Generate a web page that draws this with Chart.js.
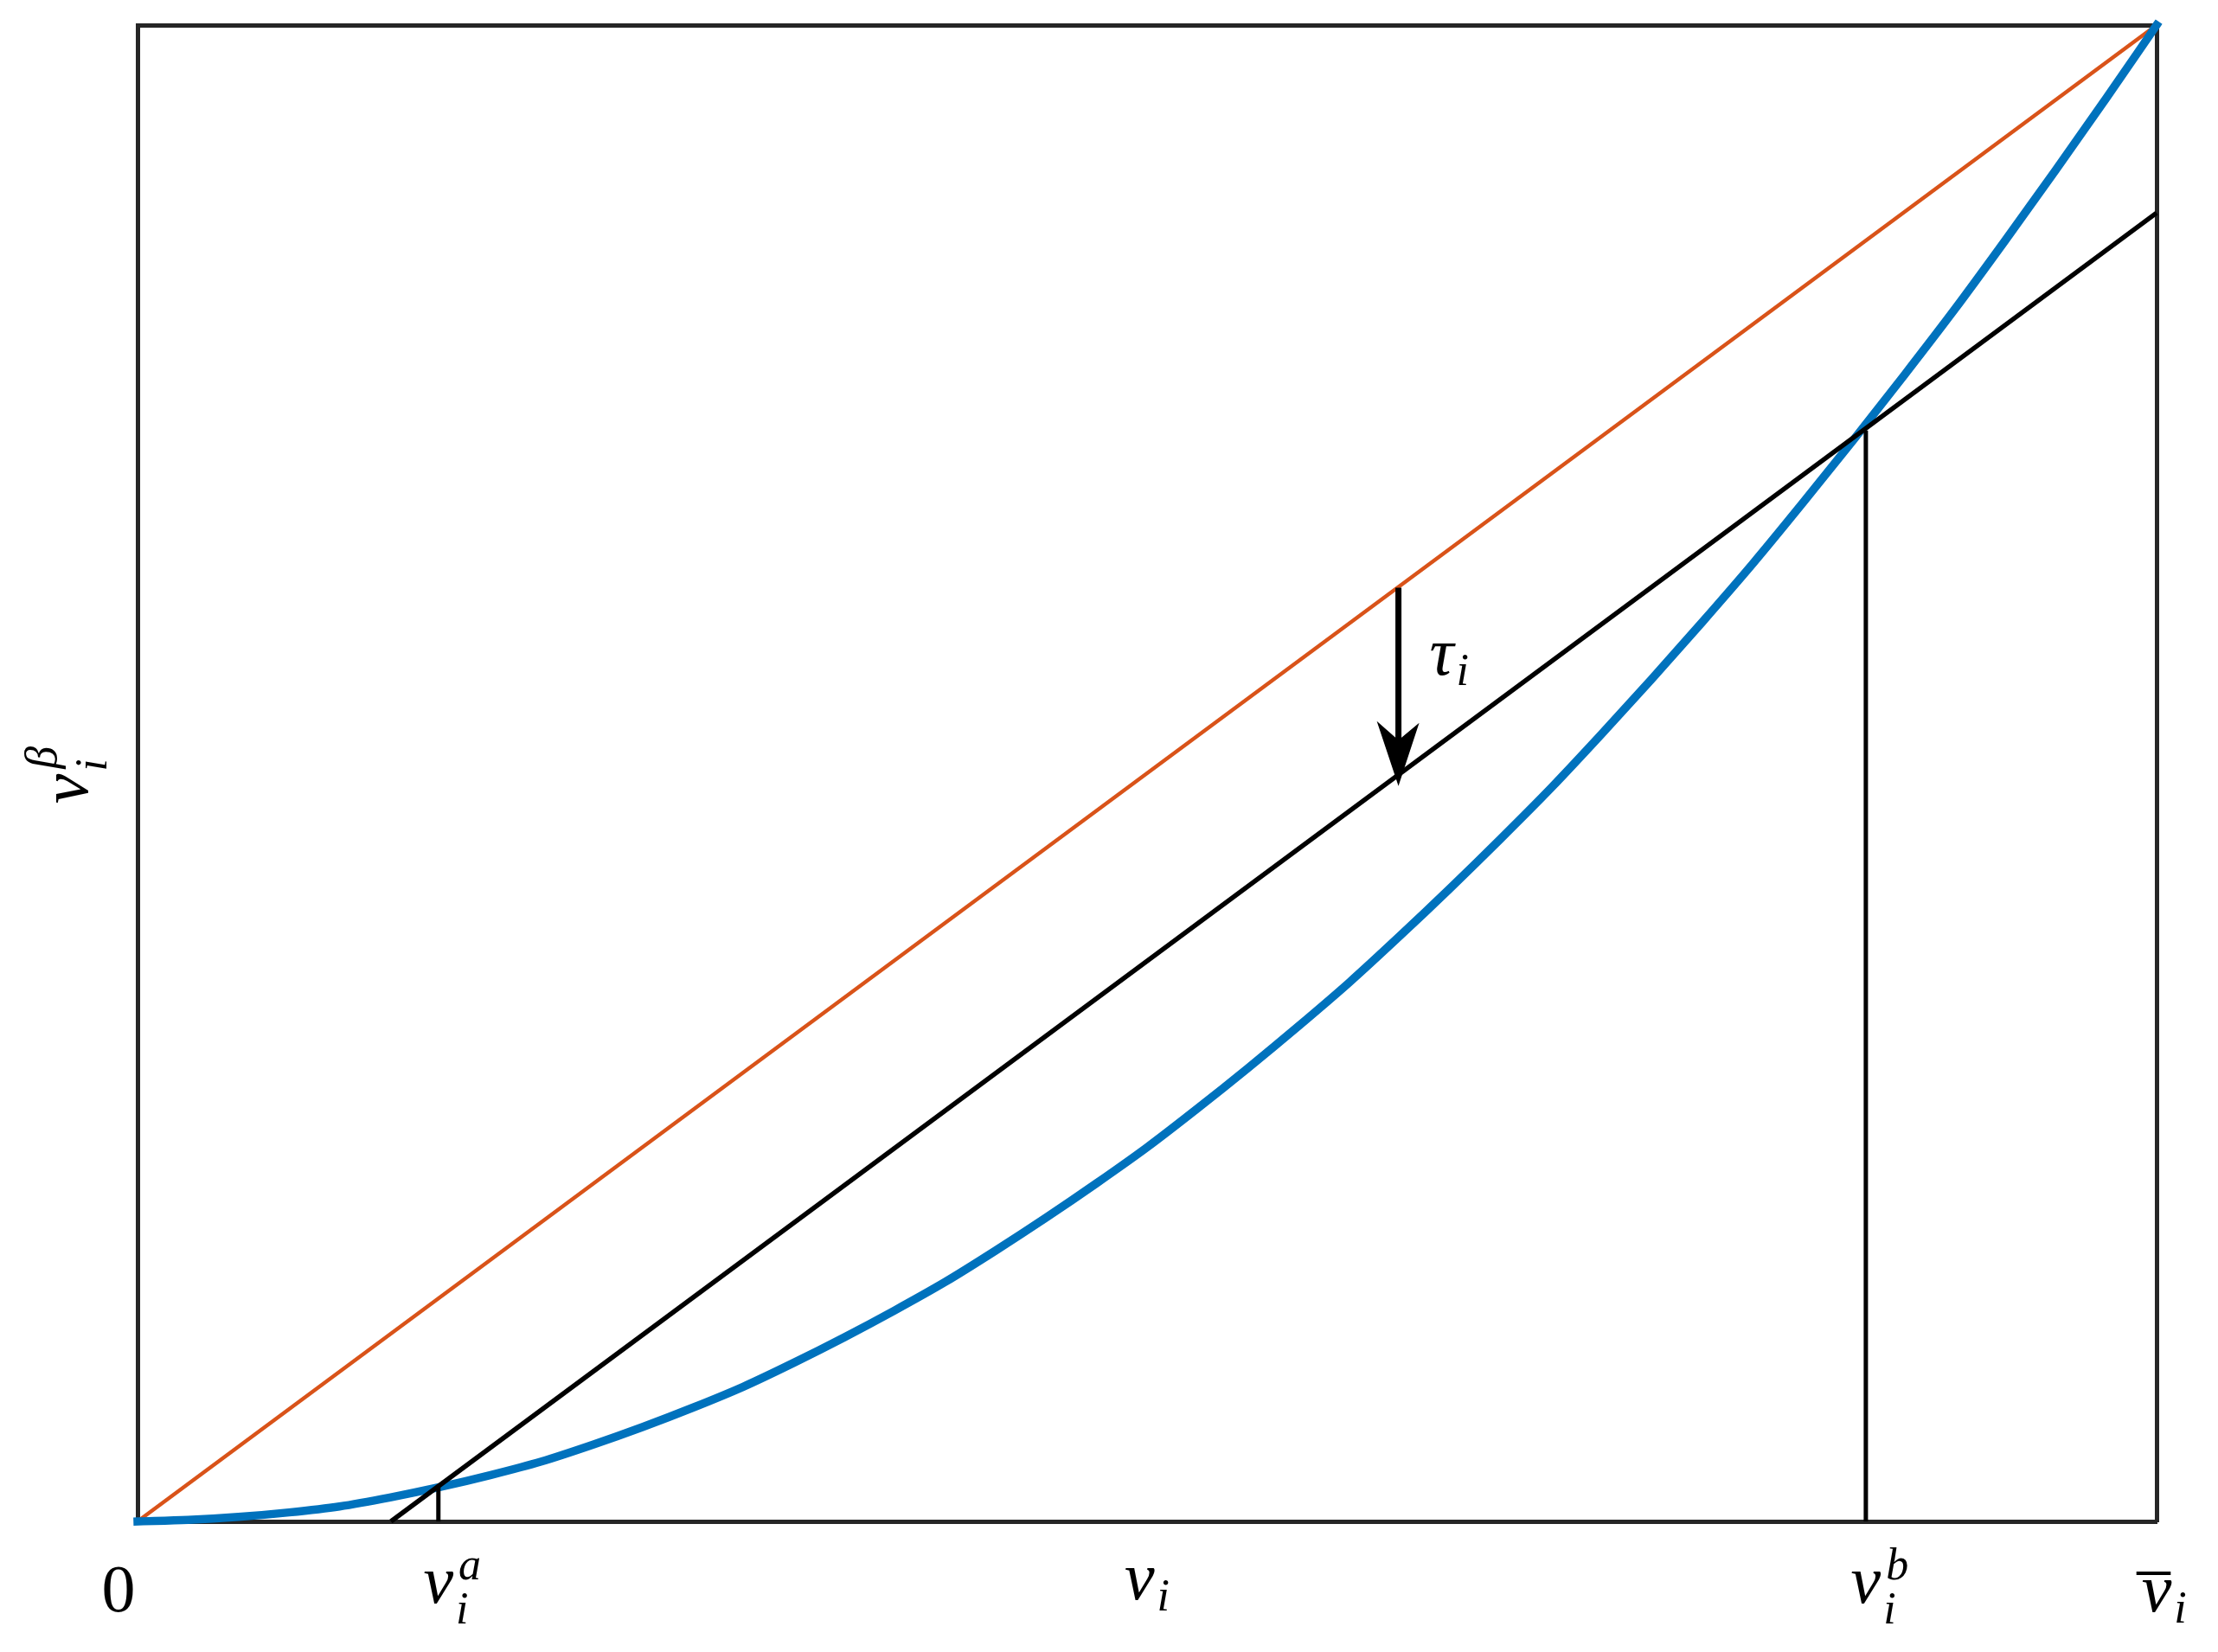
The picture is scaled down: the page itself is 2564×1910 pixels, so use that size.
<!DOCTYPE html>
<html>
<head>
<meta charset="utf-8">
<script src="https://cdn.jsdelivr.net/npm/chart.js@4.4.1/dist/chart.umd.min.js"></script>
<style>
html,body{margin:0;padding:0;background:#ffffff;}
canvas{display:block;}
</style>
</head>
<body>
<canvas id="c" width="2564" height="1910"></canvas>
<script>
// ---- data (x and y normalised to the axes box, 0..1) ----
const curveX = [0, 0.025, 0.05, 0.075, 0.10, 0.125, 0.15, 0.175, 0.20, 0.225, 0.25, 0.275, 0.30, 0.325, 0.35, 0.375, 0.40, 0.425, 0.45, 0.475, 0.50,
                0.525, 0.55, 0.575, 0.60, 0.625, 0.65, 0.675, 0.70, 0.725, 0.75, 0.775, 0.80, 0.825, 0.85, 0.875, 0.90, 0.925, 0.95, 0.975, 1.00];
const curveY = [0, 0.001, 0.003, 0.006, 0.010, 0.016, 0.023, 0.031, 0.040, 0.051, 0.063, 0.076, 0.090, 0.106, 0.123, 0.141, 0.160, 0.181, 0.203, 0.226, 0.250,
                0.276, 0.303, 0.331, 0.360, 0.391, 0.423, 0.456, 0.490, 0.526, 0.563, 0.601, 0.640, 0.681, 0.723, 0.766, 0.810, 0.856, 0.903, 0.951, 1.000];
const diagX = [0, 1];
const diagY = [0, 1];
const shiftX = [0.1255, 1];
const shiftY = [0, 0.8745];
const vaLineX = [0.149, 0.149];
const vaLineY = [0, 0.0225];
const vbLineX = [0.856, 0.856];
const vbLineY = [0, 0.729];
const arrowX = [0.6245, 0.6245];
const arrowY = [0.624, 0.4915];
const tickValues = [0, 0.149, 0.856, 1];
const tickBase = ['0', 'v', 'v', 'v'];
const tickSub  = ['', 'i', 'i', 'i'];
const tickSup  = ['', 'a', 'b', ''];
const tickBar  = [false, false, false, true];
const xTitle = {base: 'v', sub: 'i'};
const yTitle = {base: 'v', sub: 'i', sup: 'β'};
const tauText = {base: 'τ', sub: 'i'};

const pts = (xs, ys) => xs.map((x, i) => ({x: x, y: ys[i]}));

const SERIF = '"Liberation Serif", "DejaVu Serif", serif';
const BASE_SIZE = 78, SCRIPT_SIZE = 52;
function fnt(size, italic) { return (italic ? 'italic ' : '') + size + 'px ' + SERIF; }
function isItalic(t) { return /[A-Za-z\u0370-\u03ff]/.test(t); }
function mathWidth(ctx, m) {
  ctx.font = fnt(BASE_SIZE, isItalic(m.base));
  const bw = ctx.measureText(m.base).width;
  ctx.font = fnt(SCRIPT_SIZE, true);
  const sw = m.sub ? ctx.measureText(m.sub).width + 3 : 0;
  const pw = m.sup ? ctx.measureText(m.sup).width + 6 : 0;
  return bw + Math.max(sw, pw);
}
function drawMath(ctx, left, baseline, m, o) {
  o = o || {};
  ctx.font = fnt(BASE_SIZE, isItalic(m.base));
  ctx.fillText(m.base, left, baseline);
  const bw = ctx.measureText(m.base).width;
  if (m.bar) ctx.fillRect(left - 6, baseline - 46, bw + 5, 4);
  ctx.font = fnt(SCRIPT_SIZE, true);
  const both = m.sub && m.sup;
  if (m.sub) ctx.fillText(m.sub, left + bw + 3, baseline + (o.subDrop || (both ? 24 : 13)));
  if (m.sup) ctx.fillText(m.sup, left + bw + 6, baseline - (o.supRise || 27));
}

const mathPlugin = {
  id: 'mathText',
  afterDatasetsDraw(chart) {
    const {ctx, scales} = chart;
    const xs = scales.x, ys = scales.y;
    // arrow (tau)
    const px = xs.getPixelForValue(arrowX[0]);
    const y0 = ys.getPixelForValue(arrowY[0]);
    const y1 = ys.getPixelForValue(arrowY[1]);
    ctx.save();
    ctx.strokeStyle = '#000';
    ctx.fillStyle = '#000';
    ctx.lineWidth = 7;
    ctx.lineCap = 'butt';
    ctx.beginPath();
    ctx.moveTo(px, y0);
    ctx.lineTo(px, y1 - 50);
    ctx.stroke();
    ctx.beginPath();
    ctx.moveTo(px, y1);
    ctx.lineTo(px - 25, y1 - 75);
    ctx.lineTo(px, y1 - 53);
    ctx.lineTo(px + 24, y1 - 73);
    ctx.closePath();
    ctx.fill();
    ctx.restore();
  },
  afterDraw(chart) {
    const {ctx, chartArea: ca, scales} = chart;
    const xs = scales.x, ys = scales.y;
    ctx.save();
    ctx.fillStyle = '#000';
    ctx.textAlign = 'left';
    ctx.textBaseline = 'alphabetic';
    // tick labels
    for (let i = 0; i < tickValues.length; i++) {
      const m = {base: tickBase[i], sub: tickSub[i], sup: tickSup[i], bar: tickBar[i]};
      const p = xs.getPixelForValue(tickValues[i]);
      const it = isItalic(m.base);
      ctx.font = fnt(BASE_SIZE, it);
      const bw = ctx.measureText(m.base).width;
      let left = p - bw / 2;
      if (!it) left -= 22;
      const baseline = ca.bottom + (m.sup ? 94 : 104);
      drawMath(ctx, left, baseline, m);
    }
    // x axis title
    const cx = (ca.left + ca.right) / 2;
    const xw = mathWidth(ctx, xTitle);
    drawMath(ctx, cx - xw / 2, ca.bottom + 90, xTitle);
    // tau label
    drawMath(ctx, xs.getPixelForValue(arrowX[0]) + 36, ys.getPixelForValue(0.566), tauText, {subDrop: 12});
    // y axis title (rotated)
    ctx.save();
    ctx.translate(ca.left - 58, (ca.top + ca.bottom) / 2 + 2);
    ctx.rotate(-Math.PI / 2);
    const yw = mathWidth(ctx, yTitle);
    drawMath(ctx, -yw / 2, 0, yTitle, {subDrop: 22, supRise: 36});
    ctx.restore();
    ctx.restore();
  }
};

const axisBase = {
  type: 'linear', min: 0, max: 1,
  ticks: {display: false},
  grid: {display: false, drawTicks: false},
  border: {display: true, color: '#262626', width: 5}
};

new Chart(document.getElementById('c'), {
  type: 'scatter',
  data: {
    datasets: [
      {label: 'shifted', data: pts(shiftX, shiftY), showLine: true, borderColor: '#000000', borderWidth: 5.5, pointRadius: 0, clip: false, order: 0},
      {label: 'va', data: pts(vaLineX, vaLineY), showLine: true, borderColor: '#000000', borderWidth: 5, pointRadius: 0, clip: false, order: 0},
      {label: 'vb', data: pts(vbLineX, vbLineY), showLine: true, borderColor: '#000000', borderWidth: 5, pointRadius: 0, clip: false, order: 0},
      {label: 'curve', data: pts(curveX, curveY), showLine: true, borderColor: '#0072BD', borderWidth: 9.5, pointRadius: 0, cubicInterpolationMode: 'monotone', tension: 0.4, borderCapStyle: 'square', borderJoinStyle: 'round', clip: false, order: 1},
      {label: 'diag', data: pts(diagX, diagY), showLine: true, borderColor: '#D95319', borderWidth: 4.5, pointRadius: 0, clip: false, order: 2}
    ]
  },
  options: {
    responsive: false,
    animation: false,
    devicePixelRatio: 1,
    layout: {padding: {left: 159, right: 71, top: 29, bottom: 151}},
    plugins: {legend: {display: false}, tooltip: {enabled: false}},
    scales: {
      x: Object.assign({}, axisBase, {position: 'bottom', afterFit(s) { s.height = 0; }}),
      x2: Object.assign({}, axisBase, {position: 'top', afterFit(s) { s.height = 0; }}),
      y: Object.assign({}, axisBase, {position: 'left', afterFit(s) { s.width = 0; }}),
      y2: Object.assign({}, axisBase, {position: 'right', afterFit(s) { s.width = 0; }})
    }
  },
  plugins: [mathPlugin]
});
</script>
</body>
</html>
